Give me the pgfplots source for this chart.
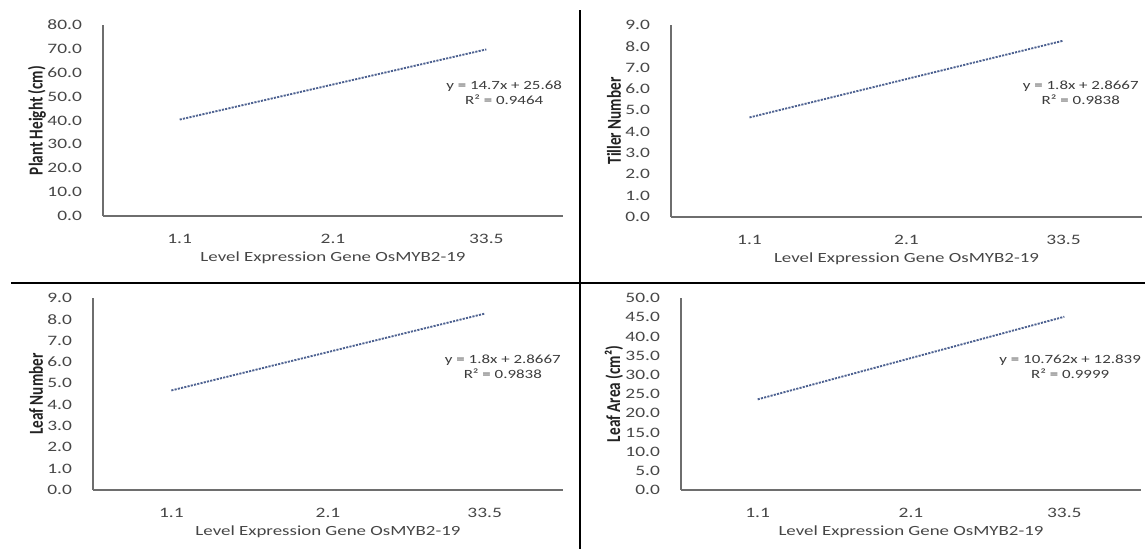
\documentclass[border=0pt]{standalone}
\usepackage{fontspec}
\setmainfont{Carlito}
\newfontfamily\wide{Carlito}[FakeStretch=1.35]
\usepackage{graphicx}
\usepackage{pgfplots}
\pgfplotsset{compat=1.18}

\definecolor{ticktext}{RGB}{70,70,70}
\definecolor{titletext}{RGB}{35,35,35}
\definecolor{eqtext}{RGB}{60,60,60}
\definecolor{axisgray}{RGB}{110,110,110}
\definecolor{trend}{RGB}{78,98,145}

% 1 px of the reference = 0.75pt
\pgfplotsset{
  panel/.style={
    scale only axis,
    anchor=south west,
    axis lines=left,
    axis line style={-, draw=axisgray, line width=0.9pt},
    tick style={draw=none},
    xmin=-0.5, xmax=2.5,
    ymin=0,
    xtick={0,1,2},
    xticklabels={1.1,2.1,33.5},
    clip=false,
    /pgf/number format/.cd, fixed, fixed zerofill, precision=1, assume math mode=true,
    /pgfplots/.cd,
    ticklabel style={font=\wide\fontsize{10.8}{12}\selectfont, text=ticktext},
    xticklabel style={anchor=north, inner sep=0pt, yshift=-11.5pt},
    yticklabel style={anchor=east, inner sep=0pt, xshift=-13.5pt},
    xlabel={Level Expression Gene OsMYB2-19},
    xlabel style={at={(axis description cs:0.5,0)}, anchor=center, yshift=-31.5pt,
      font=\wide\fontsize{10.5}{12}\selectfont, text=ticktext},
    ylabel style={at={(axis description cs:0,0.5)}, anchor=center,
      font=\fontsize{11.4}{13}\selectfont\bfseries, text=titletext},
  },
  trendline/.style={trend, line width=1.4pt, dash pattern=on 1.6pt off 0.9pt},
}
\newcommand{\eqnode}[4]{%
  \node[align=center, text=eqtext, font=\wide\fontsize{9.4}{11.3}\selectfont]
    at (rel axis cs:#1,#2) {y = #3\\R² = #4};}
% y titles: thicker across, as in the stretched reference
\newcommand{\ytitle}[1]{\scalebox{1}[1.3]{#1}}

\begin{document}
\begin{tikzpicture}
\path[use as bounding box] (0,0) rectangle (858.75pt,411.75pt);

% top left
\begin{axis}[panel, at={(77.25pt,249.75pt)}, width=345pt, height=143.25pt,
  ymax=80, ytick distance=10,
  ylabel={\ytitle{Plant Height (cm)}}, ylabel style={yshift=49.5pt}]
  \addplot[trendline] coordinates {(0,40.38) (1,55.08) (2,69.78)};
  \eqnode{0.872}{0.647}{14.7x + 25.68}{0.9464}
\end{axis}

% top right
\begin{axis}[panel, at={(503.25pt,249pt)}, width=353.25pt, height=144pt,
  ymax=9, ytick distance=1,
  ylabel={\ytitle{Tiller Number}}, ylabel style={yshift=42.75pt}]
  \addplot[trendline] coordinates {(0,4.667) (1,6.467) (2,8.267)};
  \eqnode{0.870}{0.648}{1.8x + 2.8667}{0.9838}
\end{axis}

% bottom left
\begin{axis}[panel, at={(69.75pt,44.25pt)}, width=352.5pt, height=144pt,
  ymax=9, ytick distance=1,
  ylabel={\ytitle{Leaf Number}}, ylabel style={yshift=42.75pt}]
  \addplot[trendline] coordinates {(0,4.667) (1,6.467) (2,8.267)};
  \eqnode{0.872}{0.641}{1.8x + 2.8667}{0.9838}
\end{axis}

% bottom right
\begin{axis}[panel, at={(510.75pt,44.25pt)}, width=345pt, height=144pt,
  ymax=50, ytick distance=5,
  ylabel={\ytitle{Leaf Area (cm²)}}, ylabel style={yshift=50.25pt}]
  \addplot[trendline] coordinates {(0,23.601) (1,34.363) (2,45.125)};
  \eqnode{0.846}{0.641}{10.762x + 12.839}{0.9999}
\end{axis}

% dividers
\draw[black, line width=1.6pt] (435pt,0pt) -- (435pt,404.25pt);
\draw[black, line width=1.6pt] (8.25pt,199.5pt) -- (858.75pt,199.5pt);
\end{tikzpicture}
\end{document}
